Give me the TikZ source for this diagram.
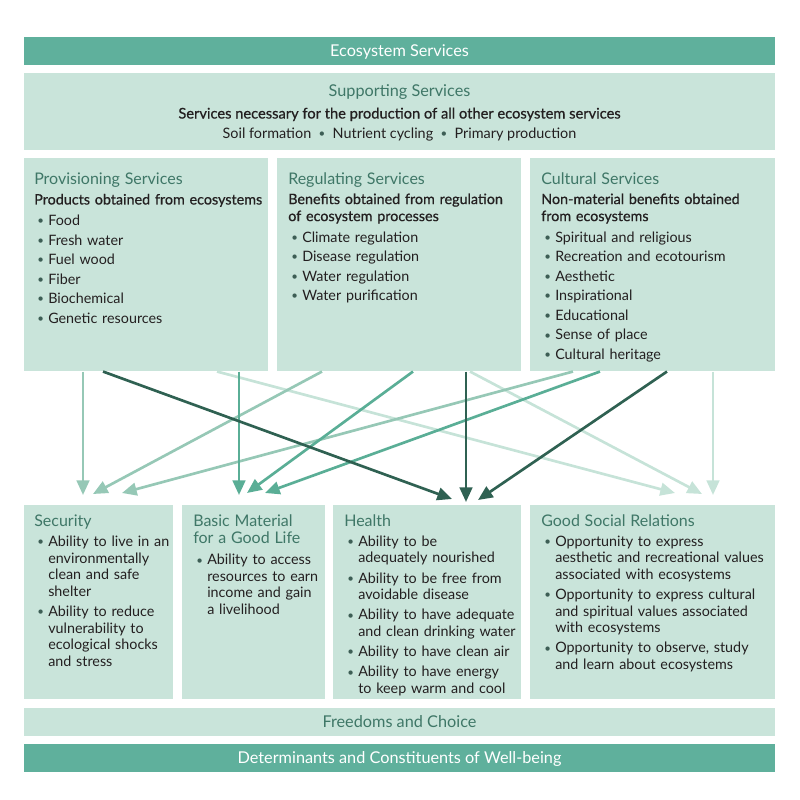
\documentclass[tikz,border=0pt]{standalone}
\usepackage{fontspec}
\usepackage{graphicx}
\setmainfont{Lato}
\newfontfamily\condfont{Lato}
\newfontfamily\condsemi[FakeBold=0.6]{Lato}
\newfontfamily\subfont[FakeBold=0.6]{Lato}
\usetikzlibrary{arrows.meta,calc}
\definecolor{esTeal}{HTML}{5FB09C}
\definecolor{esLight}{HTML}{C9E4DA}
\definecolor{esHead}{HTML}{3F7767}
\definecolor{esText}{HTML}{231F20}
\definecolor{esBul}{HTML}{3D5E55}
\definecolor{esDark}{HTML}{2F6152}
\definecolor{esMed}{HTML}{5AAE96}
\definecolor{esMedLight}{HTML}{96C8B6}
\definecolor{esPale}{HTML}{C6E3D8}
\newdimen\pxu \pxu=0.75pt
\newcommand\bul{\textcolor{esBul}{\raisebox{0.12ex}{\scalebox{0.8}{•}}}}
\newcommand\ttl[1]{{\fontsize{12}{12.75}\selectfont\color{esHead}#1\par}}
\newcommand\subh[1]{{\subfont #1\par}\vspace{1.2pt}}
\newcommand\itm[1]{\par\noindent\hangindent=14\pxu\hangafter=1\makebox[14\pxu][l]{\hspace{3\pxu}\bul}#1\par}
\tikzset{
  panel/.style={fill=esLight, inner sep=0pt, anchor=north west},
  bar/.style={fill=esTeal, inner sep=0pt, minimum width=751*0.75pt, minimum height=28*0.75pt,
    text height=8.5pt, text depth=0pt,
    text=white, font=\condfont\fontsize{12.2}{13}\selectfont},
  lightbar/.style={bar, fill=esLight, text=esHead},
  topcontent/.style={anchor=north west, inner sep=0pt, align=left, text width=#1, text=esText,
    font=\fontsize{10.75}{12.75}\selectfont},
  botcontent/.style={anchor=north west, inner sep=0pt, align=left, text width=#1, text=esText,
    font=\fontsize{10.75}{12.4}\selectfont},
  arr/.style={-{Triangle[length=11pt,width=9.5pt]}, line width=2pt},
}
\begin{document}
\begin{tikzpicture}[x=0.75pt,y=-0.75pt]
\useasboundingbox (0,0) rectangle (800,800);
% bars
\node[bar] (es) at (399.5,51) {Ecosystem Services};
\node[panel, minimum width=751*0.75pt, minimum height=77*0.75pt] (sup) at (24,73) {};
\node[text=esHead, font=\condfont\fontsize{12.2}{13}\selectfont, inner sep=0pt, anchor=base] (suptitle) at (399.5,96) {Supporting Services};
\node[text=esText, font=\condsemi\fontsize{11}{12}\selectfont, inner sep=0pt, anchor=base] (supsub) at (399.5,118.5) {Services necessary for the production of all other ecosystem services};
\node[text=esText, font=\condfont\fontsize{10.8}{12}\selectfont, inner sep=0pt, anchor=base] (supitems) at (399.5,138.5) {Soil formation~~\bul~~Nutrient cycling~~\bul~~Primary production};
% service boxes
\node[panel, minimum width=244*0.75pt, minimum height=213*0.75pt] (prov) at (24,158) {};
\node[panel, minimum width=244*0.75pt, minimum height=213*0.75pt] (reg) at (277,158) {};
\node[panel, minimum width=245*0.75pt, minimum height=213*0.75pt] (cul) at (530,158) {};
% well-being boxes
\node[panel, minimum width=149*0.75pt, minimum height=194*0.75pt] (sec) at (24,505) {};
\node[panel, minimum width=143*0.75pt, minimum height=194*0.75pt] (basic) at (182,505) {};
\node[panel, minimum width=188*0.75pt, minimum height=194*0.75pt] (health) at (333,505) {};
\node[panel, minimum width=245*0.75pt, minimum height=194*0.75pt] (good) at (530,505) {};
\node[lightbar] (free) at (399.5,721.5) {Freedoms and Choice};
\node[bar] (det) at (399.5,757.5) {Determinants and Constituents of Well-being};
% contents
\node[topcontent=300*0.75pt] (provtxt) at (34,173) {\setlength\parskip{1.9pt}%
\ttl{Provisioning Services}\subh{Products obtained from ecosystems}%
\itm{Food}\itm{Fresh water}\itm{Fuel wood}\itm{Fiber}\itm{Biochemical}\itm{Genetic resources}};
\node[topcontent=300*0.75pt] (regtxt) at (288,172.5) {\setlength\parskip{1.9pt}%
\ttl{Regulating Services}\subh{Benefits obtained from regulation\newline of ecosystem processes}%
\itm{Climate regulation}\itm{Disease regulation}\itm{Water regulation}\itm{Water purification}};
\node[topcontent=300*0.75pt] (cultxt) at (541,172.5) {\setlength\parskip{1.9pt}%
\ttl{Cultural Services}\subh{Non-material benefits obtained\newline from ecosystems}%
\itm{Spiritual and religious}\itm{Recreation and ecotourism}\itm{Aesthetic}\itm{Inspirational}%
\itm{Educational}\itm{Sense of place}\itm{Cultural heritage}};
\node[botcontent=300*0.75pt] (sectxt) at (34,514.5) {\setlength\parskip{2.8pt}%
\ttl{Security}%
\itm{Ability to live in an\newline environmentally\newline clean and safe\newline shelter}%
\itm{Ability to reduce\newline vulnerability to\newline ecological shocks\newline and stress}};
\node[botcontent=300*0.75pt] (basictxt) at (193,514) {\setlength\parskip{2.8pt}%
\ttl{Basic Material\newline for a Good Life}\vspace{1.2pt}%
\itm{Ability to access\newline resources to earn\newline income and gain\newline a livelihood}};
\node[botcontent=300*0.75pt] (healthtxt) at (344,514) {\setlength\parskip{2.8pt}%
\ttl{Health}%
\itm{Ability to be\newline adequately nourished}%
\itm{Ability to be free from\newline avoidable disease}%
\itm{Ability to have adequate\newline and clean drinking water}%
\itm{Ability to have clean air}%
\itm{Ability to have energy\newline to keep warm and cool}};
\node[botcontent=300*0.75pt] (goodtxt) at (541,514) {\setlength\parskip{2.8pt}%
\ttl{Good Social Relations}%
\itm{Opportunity to express\newline aesthetic and recreational values\newline associated with ecosystems}%
\itm{Opportunity to express cultural\newline and spiritual values associated\newline with ecosystems}%
\itm{Opportunity to observe, study\newline and learn about ecosystems}};
% arrows
\draw[arr, esPale] ($(prov.south west)+(193,0)$) -- ($(good.north west)+(145,-12)$);
\draw[arr, esPale] ($(reg.south west)+(193,0)$) -- ($(good.north west)+(172,-11)$);
\draw[arr, esPale] ($(cul.south west)+(183,0)$) -- ($(good.north west)+(183,-10)$);
\draw[arr, esMedLight] ($(prov.south west)+(59,0)$) -- ($(sec.north west)+(59,-10)$);
\draw[arr, esMedLight] ($(reg.south west)+(45,0)$) -- ($(sec.north west)+(69,-11)$);
\draw[arr, esMedLight] ($(cul.south west)+(43,0)$) -- ($(sec.north west)+(98,-12)$);
\draw[arr, esMed] ($(prov.south west)+(215,0)$) -- ($(basic.north west)+(57,-10)$);
\draw[arr, esMed] ($(reg.south west)+(136,0)$) -- ($(basic.north west)+(65,-12)$);
\draw[arr, esMed] ($(cul.south west)+(70,0)$) -- ($(basic.north west)+(83,-12)$);
\draw[arr, esDark] ($(prov.south west)+(79,0)$) -- ($(health.north west)+(119,-6)$);
\draw[arr, esDark] ($(reg.south west)+(189,0)$) -- ($(health.north west)+(133,-3)$);
\draw[arr, esDark] ($(cul.south west)+(137,0)$) -- ($(health.north west)+(145,-5)$);
\end{tikzpicture}
\end{document}
